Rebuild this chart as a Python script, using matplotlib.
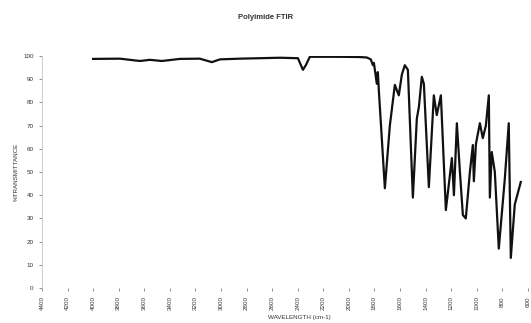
import matplotlib
matplotlib.use("Agg")
from matplotlib import pyplot as plt
import numpy as np

# spectrum (wavenumber cm-1, % transmittance)
wavenumber = [4000, 3790, 3634, 3556, 3462, 3321, 3165, 3071, 3008, 2852,
              2539, 2398, 2359, 2336, 2305, 2070, 1914, 1859, 1828, 1812,
              1804, 1781, 1773, 1765, 1718, 1679, 1640, 1609, 1585, 1562,
              1538, 1499, 1468, 1452, 1429, 1413, 1374, 1335, 1312, 1280,
              1241, 1194, 1178, 1155, 1131, 1108, 1085, 1053, 1030, 1022,
              1006, 975, 952, 928, 905, 897, 882, 858, 827, 780,
              749, 733, 702, 655]
transmittance = [98.7, 98.8, 97.8, 98.3, 97.8, 98.7, 98.8, 97.3, 98.5, 98.8,
                 99.2, 99.0, 94.0, 96.0, 99.6, 99.6, 99.5, 99.3, 98.5, 96.0,
                 97.0, 88.0, 93.0, 85.0, 43.0, 70.0, 87.5, 83.0, 92.0, 96.0,
                 94.0, 39.0, 73.0, 78.0, 91.0, 88.0, 43.5, 83.0, 74.5, 83.0,
                 33.6, 56.0, 40.0, 71.0, 50.0, 31.5, 30.0, 50.0, 61.6, 46.0,
                 62.0, 71.0, 64.6, 70.0, 83.0, 39.0, 58.6, 50.0, 17.0, 47.0,
                 71.0, 13.0, 36.0, 45.7]

xticks = list(range(4400, 599, -200))
yticks = list(range(0, 101, 10))

plt.rcParams['font.family'] = ['Liberation Sans', 'DejaVu Sans']

fig = plt.figure(figsize=(5.31, 3.23), dpi=100)
ax = fig.add_axes([0.079, 0.108, 0.915, 0.719])

ax.plot(wavenumber, transmittance, color="#111111", lw=1.6)

ax.set_xlim(4400, 600)
ax.set_ylim(0, 100)
ax.set_xticks(xticks)
ax.set_xticklabels([str(v) for v in xticks], rotation=90, fontsize=4.5, color="#333333")
ax.set_yticks(yticks)
ax.set_yticklabels([str(v) for v in yticks], fontsize=4.5, color="#333333")
ax.tick_params(length=2, width=0.5, color="#666666", pad=4)

for s in ["top", "right", "bottom"]:
    ax.spines[s].set_visible(False)
ax.spines["left"].set_color("#bbbbbb")
ax.spines["left"].set_linewidth(0.5)

ax.set_xlabel("WAVELENGTH (cm-1)", fontsize=4.5, color="#333333", labelpad=3, x=0.53)
ax.set_ylabel("%TRANSMITTANCE", fontsize=4.5, color="#333333", labelpad=3)
fig.text(0.5, 0.945, "Polyimide FTIR", ha="center", va="center", fontsize=5.5,
         fontweight="bold", color="#333333")

plt.savefig("out.png", dpi=100)
